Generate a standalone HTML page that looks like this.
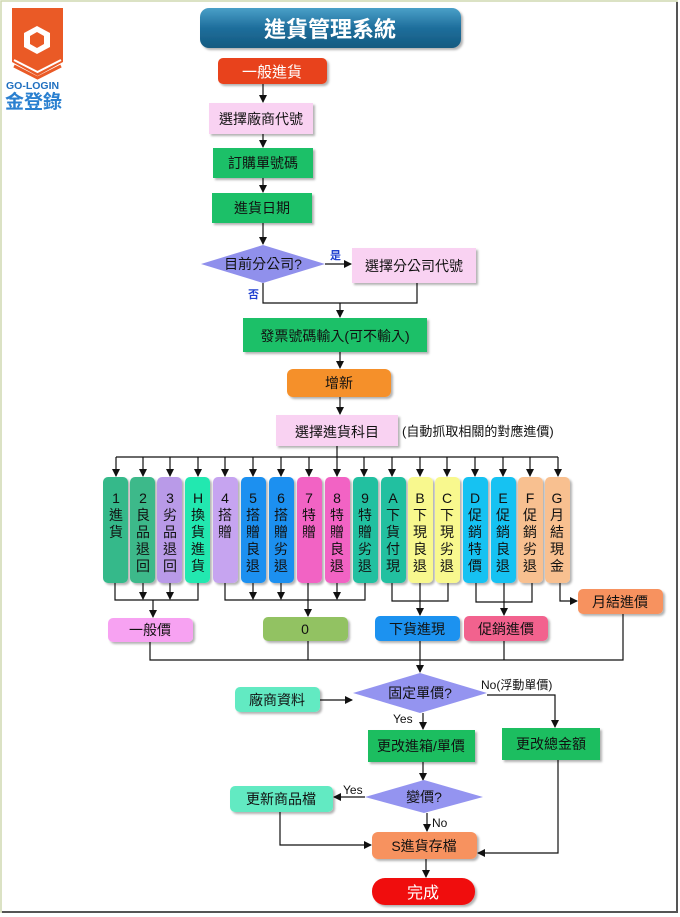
<!DOCTYPE html>
<html><head><meta charset="utf-8"><style>
html,body{margin:0;padding:0;background:#fff}
svg{display:block}
text{font-family:"Liberation Sans","Noto Sans CJK TC",sans-serif;}
</style></head><body>
<svg width="680" height="917" viewBox="0 0 680 917" xmlns="http://www.w3.org/2000/svg">
<defs>
<marker id="a" markerWidth="8" markerHeight="8" refX="7" refY="4" orient="auto" markerUnits="userSpaceOnUse"><path d="M0,0 L8,4 L0,8 z" fill="#111"/></marker>
<linearGradient id="tg" x1="0" y1="0" x2="0" y2="1"><stop offset="0" stop-color="#4aa0c8"/><stop offset="0.5" stop-color="#1e6e9c"/><stop offset="1" stop-color="#155a80"/></linearGradient>
<filter id="sh" x="-10%" y="-10%" width="130%" height="140%"><feDropShadow dx="2" dy="2" stdDeviation="1" flood-color="#000" flood-opacity="0.3"/></filter>
</defs>
<rect x="0" y="0" width="680" height="917" fill="#fff"/>
<rect x="1" y="1" width="676" height="911" fill="none" stroke="#cfd8b0" stroke-width="1.5"/>
<line x1="677" y1="2" x2="677" y2="913" stroke="#555" stroke-width="2"/>
<line x1="2" y1="912" x2="678" y2="912" stroke="#555" stroke-width="2"/>

<!-- logo -->
<path d="M12,8 L63,8 L63,62 L37.5,76 L12,62 Z" fill="#ea5a26"/>
<path d="M14,60 L37.5,72 L61,60" stroke="#fff" stroke-width="2" fill="none"/>
<path d="M14,66 L37.5,78 L61,66" stroke="#ea5a26" stroke-width="3" fill="none"/>
<polygon points="37,26 50,33 50,47 37,54 24,47 24,33" fill="#fff"/>
<polygon points="37,32 44,36 44,44 37,48 30,44 30,36" fill="#ea5a26"/>
<text x="6" y="89" font-size="10.5" font-weight="bold" fill="#2070c0">GO-LOGIN</text>
<text x="5" y="108" font-size="19" font-weight="bold" fill="#2a80d0">金登錄</text>

<!-- title -->
<rect x="200" y="8" width="261" height="40" rx="9" fill="url(#tg)" filter="url(#sh)"/>
<text x="330" y="37" font-size="22" font-weight="bold" fill="#fff" text-anchor="middle">進貨管理系統</text>

<g stroke="#111" stroke-width="1.2" fill="none">
<line x1="263" y1="84" x2="263" y2="102" marker-end="url(#a)"/>
<line x1="263" y1="134" x2="263" y2="147" marker-end="url(#a)"/>
<line x1="263" y1="178" x2="263" y2="192" marker-end="url(#a)"/>
<line x1="263" y1="223" x2="263" y2="244" marker-end="url(#a)"/>
<line x1="325" y1="264" x2="351" y2="264" marker-end="url(#a)"/>
<polyline points="263,283 263,303 417,303 417,283"/>
<line x1="340" y1="303" x2="340" y2="317" marker-end="url(#a)"/>
<line x1="340" y1="352" x2="340" y2="368" marker-end="url(#a)"/>
<line x1="340" y1="397" x2="340" y2="414" marker-end="url(#a)"/>
<line x1="337" y1="446" x2="337" y2="457"/>
<line x1="116" y1="457" x2="558" y2="457"/>
</g>

<!-- boxes top -->
<rect x="218" y="58" width="109" height="26" rx="5" fill="#e8421a" filter="url(#sh)"/>
<text x="272" y="77" font-size="15" fill="#fff" text-anchor="middle">一般進貨</text>
<rect x="209" y="103" width="104" height="31" fill="#f9d2f2" filter="url(#sh)"/>
<text x="261" y="124" font-size="14" fill="#111" text-anchor="middle">選擇廠商代號</text>
<rect x="213" y="148" width="100" height="30" fill="#1fc068" filter="url(#sh)"/>
<text x="263" y="168" font-size="14" fill="#111" text-anchor="middle">訂購單號碼</text>
<rect x="212" y="193" width="100" height="30" fill="#1fc068" filter="url(#sh)"/>
<text x="262" y="213" font-size="14" fill="#111" text-anchor="middle">進貨日期</text>
<polygon points="201,264 263,245 325,264 263,283" fill="#9090ec"/>
<text x="263" y="269" font-size="14" fill="#111" text-anchor="middle">目前分公司?</text>
<text x="330" y="259" font-size="11" font-weight="bold" fill="#2040d0">是</text>
<text x="248" y="298" font-size="11" font-weight="bold" fill="#2040d0">否</text>
<rect x="352" y="248" width="124" height="35" fill="#f9d2f2" filter="url(#sh)"/>
<text x="414" y="271" font-size="14" fill="#111" text-anchor="middle">選擇分公司代號</text>
<rect x="243" y="318" width="184" height="34" fill="#1fc068" filter="url(#sh)"/>
<text x="335" y="341" font-size="14" fill="#111" text-anchor="middle">發票號碼輸入(可不輸入)</text>
<rect x="287" y="369" width="104" height="28" rx="6" fill="#f5902a" filter="url(#sh)"/>
<text x="339" y="388" font-size="14" fill="#111" text-anchor="middle">增新</text>
<rect x="276" y="415" width="122" height="31" fill="#f9d2f2" filter="url(#sh)"/>
<text x="337" y="437" font-size="14" fill="#111" text-anchor="middle">選擇進貨科目</text>
<text x="402" y="436" font-size="13" fill="#111">(自動抓取相關的對應進價)</text>

<!-- columns -->
<g id="cols">
<g stroke="#111" stroke-width="1.2" fill="none">
<line x1="116" y1="457" x2="116" y2="476" marker-end="url(#a)"/>
<line x1="143" y1="457" x2="143" y2="476" marker-end="url(#a)"/>
<line x1="170" y1="457" x2="170" y2="476" marker-end="url(#a)"/>
<line x1="198" y1="457" x2="198" y2="476" marker-end="url(#a)"/>
<line x1="225" y1="457" x2="225" y2="476" marker-end="url(#a)"/>
<line x1="253" y1="457" x2="253" y2="476" marker-end="url(#a)"/>
<line x1="281" y1="457" x2="281" y2="476" marker-end="url(#a)"/>
<line x1="309" y1="457" x2="309" y2="476" marker-end="url(#a)"/>
<line x1="337" y1="457" x2="337" y2="476" marker-end="url(#a)"/>
<line x1="364" y1="457" x2="364" y2="476" marker-end="url(#a)"/>
<line x1="392" y1="457" x2="392" y2="476" marker-end="url(#a)"/>
<line x1="420" y1="457" x2="420" y2="476" marker-end="url(#a)"/>
<line x1="447" y1="457" x2="447" y2="476" marker-end="url(#a)"/>
<line x1="475" y1="457" x2="475" y2="476" marker-end="url(#a)"/>
<line x1="503" y1="457" x2="503" y2="476" marker-end="url(#a)"/>
<line x1="530" y1="457" x2="530" y2="476" marker-end="url(#a)"/>
<line x1="558" y1="457" x2="558" y2="476" marker-end="url(#a)"/>
</g>
<g filter="url(#sh)">
<rect x="103" y="477" width="25" height="106" rx="5" fill="#34b98a"/>
<rect x="130" y="477" width="25" height="106" rx="5" fill="#3cb98a"/>
<rect x="157" y="477" width="25" height="106" rx="5" fill="#b99ae8"/>
<rect x="185" y="477" width="25" height="106" rx="5" fill="#22e8b0"/>
<rect x="213" y="477" width="25" height="106" rx="5" fill="#c6a4f0"/>
<rect x="241" y="477" width="25" height="106" rx="5" fill="#1a90f0"/>
<rect x="269" y="477" width="25" height="106" rx="5" fill="#1a90f0"/>
<rect x="297" y="477" width="25" height="106" rx="5" fill="#f264c4"/>
<rect x="325" y="477" width="25" height="106" rx="5" fill="#f264c4"/>
<rect x="353" y="477" width="25" height="106" rx="5" fill="#20c0a0"/>
<rect x="381" y="477" width="25" height="106" rx="5" fill="#20c0a0"/>
<rect x="408" y="477" width="25" height="106" rx="5" fill="#f8f88e"/>
<rect x="435" y="477" width="25" height="106" rx="5" fill="#f8f88e"/>
<rect x="463" y="477" width="25" height="106" rx="5" fill="#18c2f2"/>
<rect x="491" y="477" width="25" height="106" rx="5" fill="#18c2f2"/>
<rect x="518" y="477" width="25" height="106" rx="5" fill="#f8c090"/>
<rect x="545" y="477" width="25" height="106" rx="5" fill="#f8c090"/>
</g>
<g font-size="14" fill="#111" text-anchor="middle">
<text x="116" y="503">1</text><text x="116" y="520">進</text><text x="116" y="537">貨</text>
<text x="143" y="503">2</text><text x="143" y="520">良</text><text x="143" y="537">品</text><text x="143" y="554">退</text><text x="143" y="571">回</text>
<text x="170" y="503">3</text><text x="170" y="520">劣</text><text x="170" y="537">品</text><text x="170" y="554">退</text><text x="170" y="571">回</text>
<text x="198" y="503">H</text><text x="198" y="520">換</text><text x="198" y="537">貨</text><text x="198" y="554">進</text><text x="198" y="571">貨</text>
<text x="225" y="503">4</text><text x="225" y="520">搭</text><text x="225" y="537">贈</text>
<text x="253" y="503">5</text><text x="253" y="520">搭</text><text x="253" y="537">贈</text><text x="253" y="554">良</text><text x="253" y="571">退</text>
<text x="281" y="503">6</text><text x="281" y="520">搭</text><text x="281" y="537">贈</text><text x="281" y="554">劣</text><text x="281" y="571">退</text>
<text x="309" y="503">7</text><text x="309" y="520">特</text><text x="309" y="537">贈</text>
<text x="337" y="503">8</text><text x="337" y="520">特</text><text x="337" y="537">贈</text><text x="337" y="554">良</text><text x="337" y="571">退</text>
<text x="365" y="503">9</text><text x="365" y="520">特</text><text x="365" y="537">贈</text><text x="365" y="554">劣</text><text x="365" y="571">退</text>
<text x="393" y="503">A</text><text x="393" y="520">下</text><text x="393" y="537">貨</text><text x="393" y="554">付</text><text x="393" y="571">現</text>
<text x="420" y="503">B</text><text x="420" y="520">下</text><text x="420" y="537">現</text><text x="420" y="554">良</text><text x="420" y="571">退</text>
<text x="447" y="503">C</text><text x="447" y="520">下</text><text x="447" y="537">現</text><text x="447" y="554">劣</text><text x="447" y="571">退</text>
<text x="475" y="503">D</text><text x="475" y="520">促</text><text x="475" y="537">銷</text><text x="475" y="554">特</text><text x="475" y="571">價</text>
<text x="503" y="503">E</text><text x="503" y="520">促</text><text x="503" y="537">銷</text><text x="503" y="554">良</text><text x="503" y="571">退</text>
<text x="530" y="503">F</text><text x="530" y="520">促</text><text x="530" y="537">銷</text><text x="530" y="554">劣</text><text x="530" y="571">退</text>
<text x="557" y="503">G</text><text x="557" y="520">月</text><text x="557" y="537">結</text><text x="557" y="554">現</text><text x="557" y="571">金</text>
</g>
</g>

<!-- group connectors -->
<g stroke="#111" stroke-width="1.2" fill="none">
<polyline points="115,583 115,600 198,600 198,583"/>
<line x1="143" y1="583" x2="143" y2="599" marker-end="url(#a)"/>
<line x1="170" y1="583" x2="170" y2="599" marker-end="url(#a)"/>
<line x1="153" y1="600" x2="153" y2="617" marker-end="url(#a)"/>
<polyline points="225,583 225,600 365,600 365,583"/>
<line x1="253" y1="583" x2="253" y2="599" marker-end="url(#a)"/>
<line x1="281" y1="583" x2="281" y2="599" marker-end="url(#a)"/>
<line x1="337" y1="583" x2="337" y2="599" marker-end="url(#a)"/>
<line x1="308" y1="583" x2="308" y2="616" marker-end="url(#a)"/>
<polyline points="392,583 392,601 448,601 448,583"/>
<line x1="420" y1="583" x2="420" y2="615" marker-end="url(#a)"/>
<polyline points="476,583 476,602 532,602 532,583"/>
<line x1="504" y1="583" x2="504" y2="615" marker-end="url(#a)"/>
<polyline points="560,583 560,601 577,601" marker-end="url(#a)"/>
<polyline points="150,642 150,660 623,660 623,614"/>
<line x1="308" y1="641" x2="308" y2="660"/>
<line x1="504" y1="641" x2="504" y2="660"/>
<line x1="420" y1="641" x2="420" y2="672" marker-end="url(#a)"/>
</g>
<g filter="url(#sh)">
<rect x="108" y="618" width="85" height="24" rx="5" fill="#f7a2f2"/>
<rect x="263" y="617" width="85" height="24" rx="5" fill="#92c262"/>
<rect x="375" y="616" width="85" height="25" rx="5" fill="#1a92f0"/>
<rect x="464" y="616" width="84" height="25" rx="5" fill="#f2628e"/>
<rect x="578" y="589" width="85" height="25" rx="5" fill="#f7925e"/>
</g>
<g font-size="14" fill="#111" text-anchor="middle">
<text x="150" y="635">一般價</text>
<text x="305" y="634">0</text>
<text x="417" y="634">下貨進現</text>
<text x="506" y="634">促銷進價</text>
<text x="620" y="607">月結進價</text>
</g>

<!-- bottom flow -->
<g stroke="#111" stroke-width="1.2" fill="none">
<line x1="320" y1="700" x2="352" y2="700" marker-end="url(#a)"/>
<polyline points="487,695 555,695 555,727" marker-end="url(#a)"/>
<line x1="423" y1="713" x2="423" y2="729" marker-end="url(#a)"/>
<line x1="423" y1="762" x2="423" y2="780" marker-end="url(#a)"/>
<line x1="365" y1="797" x2="334" y2="797" marker-end="url(#a)"/>
<line x1="427" y1="813" x2="427" y2="831" marker-end="url(#a)"/>
<polyline points="280,812 280,845 371,845" marker-end="url(#a)"/>
<polyline points="558,760 558,853 478,853" marker-end="url(#a)"/>
<line x1="426" y1="859" x2="426" y2="877" marker-end="url(#a)"/>
</g>
<polygon points="353,693 420,673 487,693 420,713" fill="#9494f0"/>
<text x="420" y="698" font-size="14" fill="#111" text-anchor="middle">固定單價?</text>
<text x="481" y="689" font-size="12" fill="#111">No(浮動單價)</text>
<text x="393" y="723" font-size="12" fill="#111">Yes</text>
<g filter="url(#sh)">
<rect x="235" y="687" width="85" height="25" rx="5" fill="#62eac2"/>
<rect x="502" y="728" width="98" height="32" fill="#1fbe60"/>
<rect x="368" y="730" width="107" height="32" fill="#1fbe60"/>
<rect x="230" y="786" width="103" height="26" rx="5" fill="#62eac2"/>
<rect x="372" y="832" width="105" height="27" rx="6" fill="#f7925e"/>
<rect x="372" y="878" width="103" height="27" rx="13" fill="#f01010"/>
</g>
<polygon points="365,797 424,780 483,797 424,813" fill="#9494f0"/>
<g font-size="14" fill="#111" text-anchor="middle">
<text x="277" y="705">廠商資料</text>
<text x="551" y="749">更改總金額</text>
<text x="421" y="751">更改進箱/單價</text>
<text x="424" y="802">變價?</text>
<text x="281" y="804">更新商品檔</text>
<text x="424" y="851">S進貨存檔</text>
<text x="423" y="898" font-size="16" fill="#fff">完成</text>
</g>
<text x="343" y="794" font-size="12" fill="#111">Yes</text>
<text x="432" y="827" font-size="12" fill="#111">No</text>
</svg>
</body></html>
